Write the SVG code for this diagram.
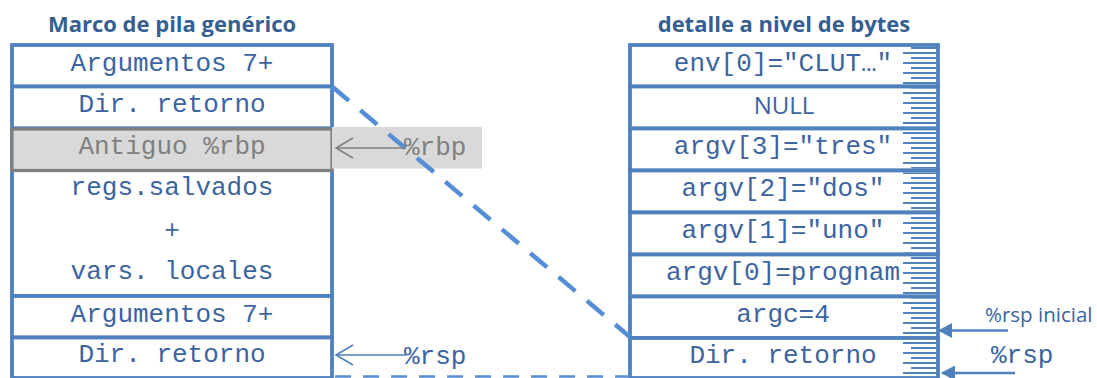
<svg xmlns="http://www.w3.org/2000/svg" width="1097" height="378" viewBox="0 0 1097 378">
<style>
.cell{fill:#ffffff;stroke:#4f81bd;stroke-width:3.8}
.gcell{fill:#d9d9d9;stroke:#7f7f7f;stroke-width:3.2}
.mono{font-family:"Liberation Mono","Courier New",monospace;font-size:26px;fill:#3b64a0;text-anchor:middle}
.monol{font-family:"Liberation Mono","Courier New",monospace;font-size:26px;fill:#3b64a0;text-anchor:start}
.gmono{font-family:"Liberation Mono","Courier New",monospace;font-size:26px;fill:#808080}
.sans{font-family:"Open Sans","Noto Sans",sans-serif;fill:#3b64a0}
.title{font-family:"Open Sans","Noto Sans",sans-serif;font-weight:bold;font-size:22px;fill:#365f91;text-anchor:middle}
.hatch{fill:url(#hatch)}
.dash1{stroke:#558ed5;stroke-width:4.5;stroke-dasharray:22 15;fill:none}
.dash2{stroke:#558ed5;stroke-width:2.5;stroke-dasharray:16 12;fill:none}
</style>
<defs>
<pattern id="hatch" patternUnits="userSpaceOnUse" x="903" y="45" width="34" height="10">
<path d="M8,3H34M0,8H34" stroke="#4f81bd" stroke-width="1.8"/>
</pattern>
<marker id="openGray" markerUnits="userSpaceOnUse" viewBox="0 0 20 22" refX="18" refY="11" markerWidth="20" markerHeight="22" orient="auto">
<path d="M1,1L18,11L1,21" fill="none" stroke="#808080" stroke-width="1.6"/>
</marker>
<marker id="openBlue" markerUnits="userSpaceOnUse" viewBox="0 0 20 22" refX="18" refY="11" markerWidth="20" markerHeight="22" orient="auto">
<path d="M1,1L18,11L1,21" fill="none" stroke="#4f81bd" stroke-width="1.6"/>
</marker>
<marker id="solidBlue" markerUnits="userSpaceOnUse" viewBox="0 0 14 15" refX="13" refY="7.5" markerWidth="14" markerHeight="15" orient="auto">
<path d="M0,0L14,7.5L0,15Z" fill="#4f81bd"/>
</marker>
</defs>
<rect width="1097" height="378" fill="#ffffff"/>

<text class="title" x="172" y="31.5">Marco de pila genérico</text>
<text class="title" x="784" y="31.5">detalle a nivel de bytes</text>

<g id="generic-frame">
<g id="g-args1"><rect class="cell" x="12" y="45" width="320" height="41.5"/><text class="mono" x="172" y="71">Argumentos 7+</text></g>
<g id="g-ret1"><rect class="cell" x="12" y="86.5" width="320" height="42"/><text class="mono" x="172" y="112">Dir. retorno</text></g>
<g id="g-locals"><rect class="cell" x="12" y="128.5" width="320" height="167.5"/><text class="mono" x="172" y="195">regs.salvados</text><text class="mono" x="172" y="238">+</text><text class="mono" x="172" y="278.5">vars. locales</text></g>
<g id="g-oldrbp"><rect class="gcell" x="12" y="129" width="320" height="41.5"/><text class="gmono" x="172" y="154" text-anchor="middle">Antiguo %rbp</text></g>
<g id="g-args2"><rect class="cell" x="12" y="296" width="320" height="41.5"/><text class="mono" x="172" y="322">Argumentos 7+</text></g>
<g id="g-ret2"><rect class="cell" x="12" y="337.5" width="320" height="40.5"/><text class="mono" x="172" y="362">Dir. retorno</text></g>
</g>

<g id="byte-detail">
<g id="b-env"><rect class="cell" x="630" y="45" width="308" height="41.5"/><rect class="hatch" x="903" y="47" width="34" height="37.5"/><text class="mono" x="783" y="71">env[0]="CLUT…"</text></g>
<g id="b-null"><rect class="cell" x="630" y="86.5" width="308" height="42"/><rect class="hatch" x="903" y="88.5" width="34" height="38"/><text class="sans" x="784" y="114" font-size="24" text-anchor="middle">NULL</text></g>
<g id="b-argv3"><rect class="cell" x="630" y="128.5" width="308" height="42"/><rect class="hatch" x="903" y="130.5" width="34" height="38"/><text class="mono" x="783" y="154">argv[3]="tres"</text></g>
<g id="b-argv2"><rect class="cell" x="630" y="170.5" width="308" height="42"/><rect class="hatch" x="903" y="172.5" width="34" height="38"/><text class="mono" x="783" y="195.5">argv[2]="dos"</text></g>
<g id="b-argv1"><rect class="cell" x="630" y="212.5" width="308" height="42"/><rect class="hatch" x="903" y="214.5" width="34" height="38"/><text class="mono" x="783" y="237.5">argv[1]="uno"</text></g>
<g id="b-argv0"><rect class="cell" x="630" y="254.5" width="308" height="42"/><rect class="hatch" x="903" y="256.5" width="34" height="38"/><text class="mono" x="783" y="279.5">argv[0]=prognam</text></g>
<g id="b-argc"><rect class="cell" x="630" y="296.5" width="308" height="41.5"/><rect class="hatch" x="903" y="298.5" width="34" height="37.5"/><text class="mono" x="783" y="321.5">argc=4</text></g>
<g id="b-ret"><rect class="cell" x="630" y="338" width="308" height="40"/><rect class="hatch" x="903" y="340" width="34" height="38"/><text class="mono" x="783" y="363">Dir. retorno</text></g>
</g>

<rect id="rbp-highlight" x="332" y="127" width="150" height="41.5" fill="#d9d9d9"/>

<g id="connectors">
<line class="dash1" x1="332" y1="86.5" x2="630" y2="337"/>
<line class="dash2" x1="335" y1="376.5" x2="630" y2="376.5"/>
<line x1="406" y1="148" x2="336" y2="148" stroke="#808080" stroke-width="1.6" marker-end="url(#openGray)"/>
<line x1="406" y1="355" x2="336" y2="355" stroke="#4f81bd" stroke-width="1.6" marker-end="url(#openBlue)"/>
<line x1="1008" y1="330.5" x2="939" y2="330.5" stroke="#4f81bd" stroke-width="2.5" marker-end="url(#solidBlue)"/>
<line x1="1015" y1="373" x2="942" y2="373" stroke="#4f81bd" stroke-width="2.5" marker-end="url(#solidBlue)"/>
</g>

<g id="pointer-labels">
<text class="gmono" x="404" y="155">%rbp</text>
<text class="monol" x="404" y="364">%rsp</text>
<text class="sans" x="985" y="321.5" font-size="20.5">%rsp inicial</text>
<text class="monol" x="991" y="363">%rsp</text>
</g>
</svg>
